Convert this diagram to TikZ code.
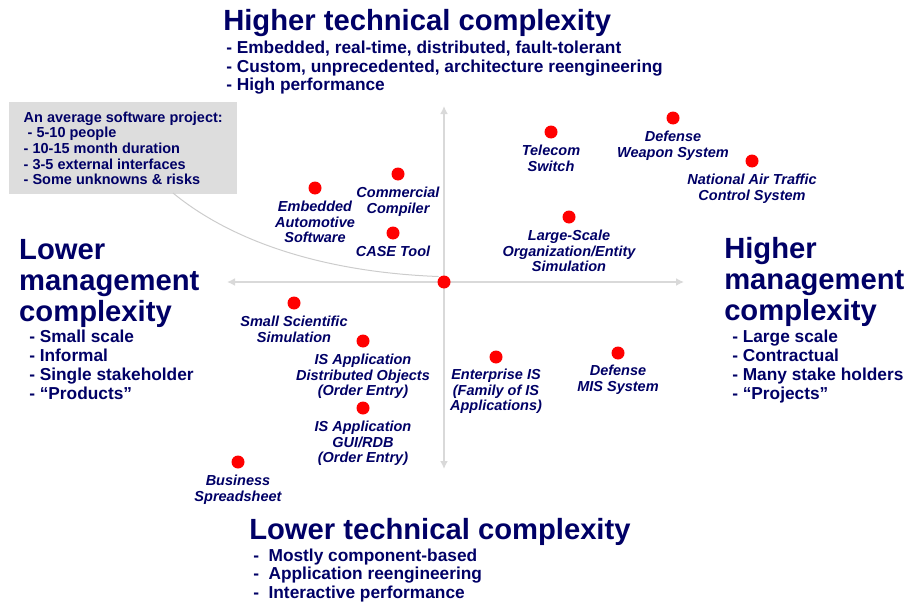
\documentclass[tikz,border=0pt]{standalone}
\usepackage{fontspec}
\setmainfont{Liberation Sans}
\usepackage{xcolor}
\usetikzlibrary{arrows.meta,positioning}
\definecolor{Ink}{RGB}{0,0,102}
\definecolor{AxisGray}{RGB}{217,217,217}
\definecolor{BoxGray}{RGB}{221,221,221}
\definecolor{CurveGray}{RGB}{204,204,204}

\begin{document}
\begin{tikzpicture}[x=1pt, y=-1pt, line width=2.5pt,
        every node/.append style={text=Ink, inner sep=0pt},
        every circle node/.append style={fill=red}]
      \tikzstyle{spot} = [circle, minimum size=13pt]
      \tikzstyle{proj} = [font=\fontsize{14.5}{15.7}\selectfont\bfseries\itshape, align=center]
      \tikzstyle{head} = [font=\fontsize{29.2}{31}\selectfont\bfseries, align=left, anchor=base west]
      \tikzstyle{items} = [font=\fontsize{17.3}{18.8}\selectfont\bfseries, align=left, anchor=base west]
      \tikzstyle{axis} = [AxisGray, {Latex[length=8pt,width=8pt]}-{Latex[length=8pt,width=8pt]}]
      \useasboundingbox (0,0) rectangle (908,602);
      % axes
      \coordinate (lowM) at (227,282);
      \coordinate (highM) at (684,282);
      \coordinate (highT) at (444,106);
      \coordinate (lowT) at (444,469);
      \draw [axis] (lowM) -- (highM);
      \draw [axis] (highT) -- (lowT);
      % average project
      \node (avg) [fill=BoxGray, anchor=north west, minimum width=228pt, minimum height=92pt,
        inner xsep=14pt, inner ysep=8.5pt, align=left,
        font=\fontsize{14.5}{15.6}\selectfont\bfseries] at (8,101)
        {An average software project:\\\hspace{4pt}- 5-10 people\\- 10-15 month duration\\- 3-5 external interfaces\\- Some unknowns \& risks};
      \coordinate (tail) at (173,193);
      % projects
      \node (origin) [spot] at (444,282) {};
      \node (telecom) [spot] at (551,132) {};
      \node (weapon) [spot] at (673,118) {};
      \node (atc) [spot] at (752,161) {};
      \node (compiler) [spot] at (398,174) {};
      \node (auto) [spot] at (315,188) {};
      \node (case) [spot] at (393,233) {};
      \node (sim) [spot] at (569,217) {};
      \node (sci) [spot] at (294,303) {};
      \node (isdo) [spot] at (363,341) {};
      \node (isgui) [spot] at (363,408) {};
      \node (sheet) [spot] at (238,462) {};
      \node (eis) [spot] at (496,357) {};
      \node (mis) [spot] at (618,353) {};
      \draw [CurveGray, line width=1pt] (tail) .. controls (230,240) and (320,272) .. (origin.north west);
      \node [proj, below=4pt of telecom] {Telecom\\Switch};
      \node [proj, below=4pt of weapon] {Defense\\Weapon System};
      \node [proj, below=4pt of atc] {National Air Traffic\\Control System};
      \node [proj, below=4pt of compiler] {Commercial\\Compiler};
      \node [proj, below=4pt of auto] {Embedded\\Automotive\\Software};
      \node [proj, below=4pt of case] {CASE Tool};
      \node [proj, below=4pt of sim] {Large-Scale\\Organization/Entity\\Simulation};
      \node [proj, below=4pt of sci] {Small Scientific\\Simulation};
      \node [proj, below=4pt of isdo] {IS Application\\Distributed Objects\\(Order Entry)};
      \node [proj, below=4pt of isgui] {IS Application\\GUI/RDB\\(Order Entry)};
      \node [proj, below=4pt of sheet] {Business\\Spreadsheet};
      \node [proj, below=3pt of eis] {Enterprise IS\\(Family of IS\\Applications)};
      \node [proj, below=3pt of mis] {Defense\\MIS System};
      % quadrant headings (base = last line)
      \node (hiTech) [head] at (222,31) {Higher technical complexity};
      \node [items, font=\fontsize{17.3}{18.5}\selectfont\bfseries] at (225,91)
        {- Embedded, real-time, distributed, fault-tolerant\\- Custom, unprecedented, architecture reengineering\\- High performance};
      \node (loTech) [head] at (248,539) {Lower technical complexity};
      \node [items, font=\fontsize{17.3}{18.3}\selectfont\bfseries] at (252,598)
        {-\ \ Mostly component-based\\-\ \ Application reengineering\\-\ \ Interactive performance};
      \node (loMgmt) [head] at (18,321) {Lower\\management\\complexity};
      \node [items] at (28,399) {- Small scale\\- Informal\\- Single stakeholder\\- “Products”};
      \node (hiMgmt) [head] at (723,320) {Higher\\management\\complexity};
      \node [items] at (731,399) {- Large scale\\- Contractual\\- Many stake holders\\- “Projects”};
    \end{tikzpicture}
\end{document}
